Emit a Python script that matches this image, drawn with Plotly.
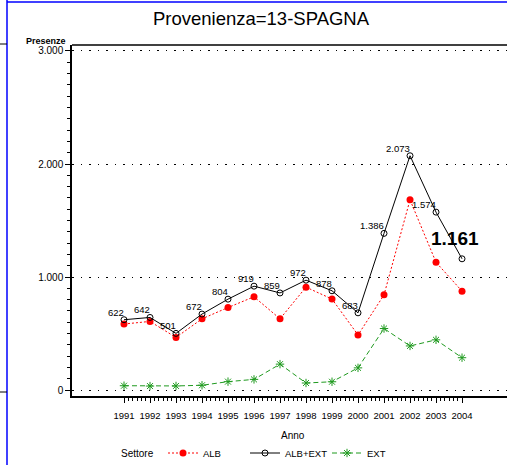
import plotly.graph_objects as go

years = [1991, 1992, 1993, 1994, 1995, 1996, 1997, 1998, 1999, 2000, 2001, 2002, 2003, 2004]
alb_ext = [622, 642, 501, 672, 804, 919, 859, 972, 878, 683, 1386, 2073, 1574, 1161]
alb = [584, 607, 465, 630, 730, 825, 630, 910, 805, 487, 842, 1683, 1130, 875]
ext = [38, 35, 36, 42, 74, 94, 229, 62, 73, 196, 544, 390, 444, 286]
ytick_vals = [0, 1000, 2000, 3000]
ytick_text = ["0", "1.000", "2.000", "3.000"]

FONT = "Liberation Sans, Arial, sans-serif"
GREEN = "#1f9a1f"

fig = go.Figure()
fig.add_trace(go.Scatter(
    x=years, y=alb, name="ALB", mode="lines+markers",
    line=dict(color="#ff0000", width=1, dash="2px,2px"),
    marker=dict(symbol="circle", size=7, color="#ff0000"),
))
fig.add_trace(go.Scatter(
    x=years, y=alb_ext, name="ALB+EXT", mode="lines+markers",
    line=dict(color="black", width=1),
    marker=dict(symbol="circle-open", size=6, color="black", line=dict(width=1)),
))
fig.add_trace(go.Scatter(
    x=years, y=ext, name="EXT", mode="lines+markers",
    line=dict(color=GREEN, width=1, dash="5px,3px"),
    marker=dict(symbol="asterisk-open", size=7, color=GREEN, line=dict(width=1, color=GREEN)),
))

def fmt(v):
    return f"{v:,}".replace(",", ".")

annotations = []
for i, (x, v) in enumerate(zip(years, alb_ext)):
    if i == len(years) - 1:
        annotations.append(dict(x=x, y=v, xref="x", yref="y", text="<b>" + fmt(v) + "</b>",
                                showarrow=False, xanchor="center", yanchor="middle",
                                xshift=-7, yshift=20,
                                font=dict(family=FONT, size=19, color="black")))
    else:
        annotations.append(dict(x=x, y=v, xref="x", yref="y", text=fmt(v),
                                showarrow=False, xanchor="right", yanchor="bottom",
                                xshift=2, yshift=0,
                                font=dict(family=FONT, size=9.5, color="black")))

P = lambda px: (px - 72) / 435
Q = lambda py: (396 - py) / 351

annotations.append(dict(x=P(293), y=Q(435.5), xref="paper", yref="paper",
                        text="Anno", showarrow=False, xanchor="center", yanchor="middle",
                        font=dict(family=FONT, size=10, color="black")))
annotations.append(dict(x=P(68), y=Q(41), xref="paper", yref="paper",
                        text="<b>Presenze</b>", showarrow=False, xanchor="right", yanchor="middle",
                        font=dict(family=FONT, size=9, color="black")))
annotations.append(dict(x=P(119), y=Q(453), xref="paper", yref="paper",
                        text="Settore", showarrow=False, xanchor="left", yanchor="middle",
                        font=dict(family=FONT, size=10, color="black")))

shapes = [
    dict(type="line", xref="paper", yref="paper", x0=P(7), x1=P(7), y0=Q(0), y1=Q(465),
         line=dict(color="#0000ff", width=1.5)),
    dict(type="line", xref="paper", yref="paper", x0=P(7), x1=P(507), y0=Q(2), y1=Q(2),
         line=dict(color="#0000ff", width=1.5)),
    dict(type="line", xref="paper", yref="paper", x0=P(0), x1=P(7), y0=Q(44), y1=Q(44),
         line=dict(color="black", width=1)),
    dict(type="line", xref="paper", yref="paper", x0=P(0), x1=P(7), y0=Q(392), y1=Q(392),
         line=dict(color="black", width=1)),
    dict(type="line", xref="paper", yref="paper", x0=0, x1=1, y0=1, y1=1,
         line=dict(color="black", width=1.5)),
]

minor_x = [y + k / 6 for y in years[:-1] for k in range(1, 6)]
minor_y = [v for v in range(100, 3000, 100) if v % 1000 != 0]

fig.update_layout(
    width=507, height=465,
    margin=dict(l=72, r=0, t=45, b=69, autoexpand=False),
    paper_bgcolor="white", plot_bgcolor="white",
    font=dict(family=FONT, size=10, color="black"),
    title=dict(text="Provenienza=13-SPAGNA", x=261 / 507, xanchor="center",
               y=1 - 18.5 / 465, yanchor="middle",
               font=dict(family=FONT, size=18.5, color="black")),
    showlegend=True,
    legend=dict(orientation="h", x=P(163), xanchor="left", y=Q(453), yanchor="middle",
                font=dict(family=FONT, size=9.5), itemwidth=30,
                entrywidth=37, entrywidthmode="pixels", bgcolor="rgba(0,0,0,0)"),
    xaxis=dict(range=[1989.0, 2005.73], tickmode="array", tickvals=years,
               ticktext=[str(y) for y in years], ticks="outside", ticklen=5, tickwidth=1,
               tickcolor="black", showline=True, linecolor="black", linewidth=1.5,
               showgrid=False, zeroline=False, ticklabelstandoff=5, tickangle=0,
               automargin=False, tickfont=dict(family=FONT, size=9.5),
               minor=dict(tickmode="array", tickvals=minor_x, ticks="outside", ticklen=3,
                          tickwidth=1, tickcolor="black", showgrid=False)),
    yaxis=dict(range=[-53, 3053], tickmode="array", tickvals=ytick_vals, ticktext=ytick_text,
               ticks="outside", ticklen=5, tickwidth=1, tickcolor="black",
               showline=True, linecolor="black", linewidth=1.5, automargin=False,
               showgrid=True, gridcolor="black", gridwidth=1, griddash="1.5px,7px",
               zeroline=False, tickfont=dict(family=FONT, size=10),
               minor=dict(tickmode="array", tickvals=minor_y, ticks="outside", ticklen=3,
                          tickwidth=1, tickcolor="black", showgrid=False)),
    annotations=annotations,
    shapes=shapes,
)

fig.write_html("out.html", config={"displayModeBar": False},
               post_script="document.body.style.margin='0';")
